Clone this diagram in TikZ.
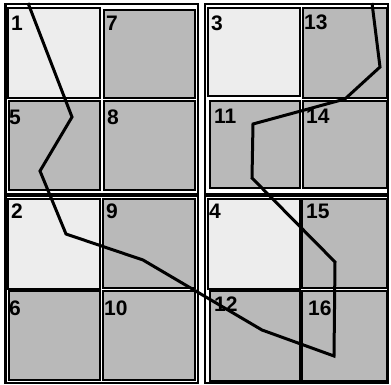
\documentclass[tikz,border=0pt]{standalone}
\usepackage{fontspec}
\setmainfont{Liberation Sans}
\begin{document}
\begin{tikzpicture}[x=1pt,y=-1pt,
  cellbase/.style={draw=black, line width=1.2pt, anchor=north west, inner sep=0pt, outer sep=0pt},
  light/.style={cellbase, fill=gray!14},
  dark/.style={cellbase, fill=gray!55},
  lbl/.style={anchor=north west, inner sep=0pt, font=\fontsize{21}{21}\selectfont\bfseries},
  quad/.style={draw=black, line width=1.3pt},
  route/.style={draw=black, line width=3pt, line join=miter}]
\useasboundingbox (0,0) rectangle (391,385);
\fill[white] (0,0) rectangle (391,385);
% quadrant frames
\draw[quad] (5,4) rectangle (198,194);
\draw[quad] (5,196) rectangle (198,383);
\draw[quad] (205,4) rectangle (388,194);
\draw[quad] (205,196) rectangle (388,383);
\draw[black, line width=3pt] (5,4) -- (5,384);
% cells
\node[light, minimum width=92pt, minimum height=90pt] (c1)  at (8,8)    {};
\node[dark,  minimum width=91pt, minimum height=88pt] (c7)  at (104,10) {};
\node[dark,  minimum width=91pt, minimum height=89pt] (c5)  at (9,101)  {};
\node[dark,  minimum width=91pt, minimum height=89pt] (c8)  at (104,101){};
\node[light, minimum width=92pt, minimum height=90pt] (c2)  at (8,199)  {};
\node[dark,  minimum width=92pt, minimum height=89pt] (c9)  at (103,199){};
\node[dark,  minimum width=91pt, minimum height=89pt] (c6)  at (9,291)  {};
\node[dark,  minimum width=92pt, minimum height=89pt] (c10) at (103,291){};
\node[light, minimum width=92pt, minimum height=88pt] (c3)  at (208,8)  {};
\node[dark,  minimum width=84pt, minimum height=90pt] (c13) at (303,8)  {};
\node[dark,  minimum width=90pt, minimum height=87pt] (c11) at (210,101){};
\node[dark,  minimum width=84pt, minimum height=87pt] (c14) at (303,101){};
\node[light, minimum width=92pt, minimum height=90pt] (c4)  at (208,199){};
\node[dark,  minimum width=85pt, minimum height=89pt] (c15) at (302,199){};
\node[dark,  minimum width=90pt, minimum height=90pt] (c12) at (210,291){};
\node[dark,  minimum width=85pt, minimum height=90pt] (c16) at (302,291){};
% labels
\node[lbl] (l1)  at (11,16)   {1};
\node[lbl] (l7)  at (106,16)  {7};
\node[lbl] (l5)  at (9,110)   {5};
\node[lbl] (l8)  at (107,110) {8};
\node[lbl] (l2)  at (11,204)  {2};
\node[lbl] (l9)  at (106,204) {9};
\node[lbl] (l6)  at (9,301)   {6};
\node[lbl] (l10) at (104,301) {10};
\node[lbl] (l3)  at (211,16)  {3};
\node[lbl] (l13) at (304,15)  {13};
\node[lbl] (l11) at (214,109) {11};
\node[lbl] (l14) at (306,109) {14};
\node[lbl] (l4)  at (209,204) {4};
\node[lbl] (l15) at (306,204) {15};
\node[lbl] (l12) at (214,297) {12};
\node[lbl] (l16) at (308,301) {16};
% route
\coordinate (p0)  at (28,3);
\coordinate (p1)  at (72,117);
\coordinate (p2)  at (40,171);
\coordinate (p3)  at (66,234);
\coordinate (p4)  at (143,260);
\coordinate (p5)  at (262,330);
\coordinate (p6)  at (334,356);
\coordinate (p7)  at (335,262);
\coordinate (p8)  at (252,178);
\coordinate (p9)  at (253,124);
\coordinate (p10) at (345,99);
\coordinate (p11) at (380,67);
\coordinate (p12) at (372,3);
\draw[route] (p0) -- (p1) -- (p2) -- (p3) -- (p4) -- (p5) -- (p6) -- (p7) -- (p8) -- (p9) -- (p10) -- (p11) -- (p12);
\end{tikzpicture}
\end{document}
